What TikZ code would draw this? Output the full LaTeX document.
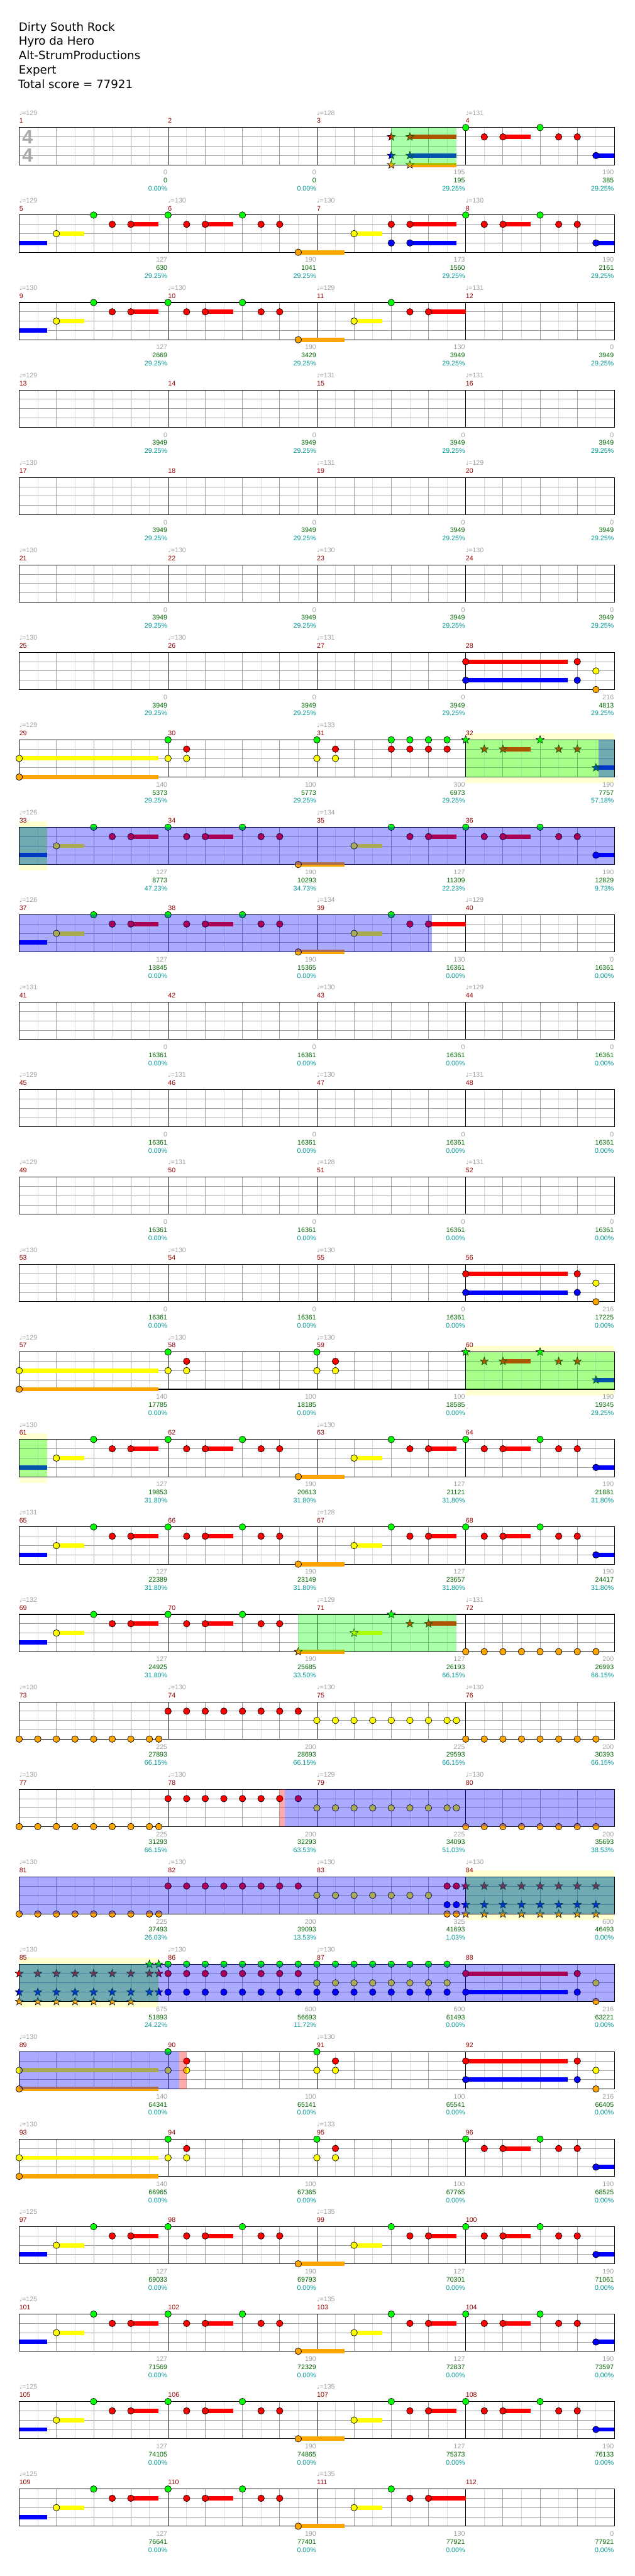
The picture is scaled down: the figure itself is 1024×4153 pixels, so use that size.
\documentclass[tikz,border=0pt]{standalone}
\usepackage{fontspec}
\setmainfont{Liberation Sans}
\newfontfamily\djv{DejaVu Sans}
\definecolor{cG}{RGB}{0,255,0}
\definecolor{cR}{RGB}{255,0,0}
\definecolor{cY}{RGB}{255,255,0}
\definecolor{cB}{RGB}{0,0,255}
\definecolor{cO}{RGB}{255,165,0}
\definecolor{gridmid}{RGB}{160,160,160}
\definecolor{gridlt}{RGB}{222,222,222}
\definecolor{halocol}{RGB}{255,255,208}
\definecolor{txgray}{RGB}{160,160,160}
\definecolor{txred}{RGB}{150,0,0}
\definecolor{txgreen}{RGB}{0,100,0}
\definecolor{txteal}{RGB}{0,150,150}
\definecolor{sigcol}{RGB}{170,170,170}
\def\lnG{0}\def\lnR{1}\def\lnY{2}\def\lnB{3}\def\lnO{4}
\def\nontp{-}
\newcommand\gRow[1]{\pgfmathsetmacro\Y{205.7+141*(#1)}}
\newcommand\gNote[2]{\filldraw[fill=c#1,draw=black,line width=0.7pt] ({31+30*(#2)},{\Y+15*\csname ln#1\endcsname}) circle[radius=5.3pt];}
\newcommand\gSus[3]{\fill[c#1] ({31+30*(#2)},{\Y+15*\csname ln#1\endcsname-3.5}) rectangle ({31+30*(#3)},{\Y+15*\csname ln#1\endcsname+3.5});}
\newcommand\gStar[2]{\filldraw[fill=c#1,draw=black,line width=0.6pt,shift={({31+30*(#2)},{\Y+15*\csname ln#1\endcsname})}] (90:6.8pt) -- (126:2.8pt) -- (162:6.8pt) -- (198:2.8pt) -- (234:6.8pt) -- (270:2.8pt) -- (306:6.8pt) -- (342:2.8pt) -- (18:6.8pt) -- (54:2.8pt) -- cycle;}
\newcommand\gGrid{%
 \foreach \k in {1,3,...,31}{\draw[gridlt,line width=0.8pt] ({31+30*\k},\Y) -- ({31+30*\k},{\Y+60});}
 \foreach \k in {2,4,6,10,12,14,18,20,22,26,28,30}{\draw[gridmid,line width=0.8pt] ({31+30*\k},\Y) -- ({31+30*\k},{\Y+60});}
 \foreach \k in {1,2,3}{\draw[gridmid,line width=0.8pt] (31,{\Y+15*\k}) -- (991,{\Y+15*\k});}
 \foreach \k in {8,16,24}{\draw[black,line width=0.8pt] ({31+30*\k},\Y) -- ({31+30*\k},{\Y+60});}
 \draw[black,line width=1.1pt] (31,\Y) rectangle (991,{\Y+60});}
\newcommand\gHalo[2]{\fill[halocol] ({31+30*(#1)},{\Y-10}) rectangle ({31+30*(#2)},{\Y+70});}
\newcommand\gOvG[2]{\fill[cG,fill opacity=0.333] ({31+30*(#1)},\Y) rectangle ({31+30*(#2)},{\Y+60});}
\newcommand\gOvB[2]{\fill[cB,fill opacity=0.333] ({31+30*(#1)},\Y) rectangle ({31+30*(#2)},{\Y+60});}
\newcommand\gOvP[2]{\fill[cR,fill opacity=0.333] ({31+30*(#1)},\Y) rectangle ({31+30*(#2)},{\Y+60});}
\newcommand\gTri[1]{\gSus{R}{#1+2}{#1+3.5}\gNote{G}{#1}\gNote{R}{#1+1}\gNote{R}{#1+2}}
\newcommand\gDuo[1]{\gNote{R}{#1}\gNote{R}{#1+1}}
\newcommand\gFirst{\gSus{B}{0}{1.5}\gSus{Y}{2}{3.5}\gNote{Y}{2}\gTri{4}\gTri{8}\gNote{G}{12}\gDuo{13}\gSus{O}{15}{17.5}\gNote{O}{15}\gSus{Y}{18}{19.5}\gNote{Y}{18}}
\newcommand\gMfour[1]{\gTri{#1}\gNote{G}{#1+4}\gDuo{#1+5}\gSus{B}{#1+7}{#1+8}\gNote{B}{#1+7}}
\newcommand\gFull{\gFirst\gTri{20}\gMfour{24}}
\newcommand\gEndThree{\gSus{R}{22}{24}\gNote{G}{20}\gNote{R}{21}\gNote{R}{22}}
\newcommand\gChord{\gSus{R}{24}{29.5}\gSus{B}{24}{29.5}\gNote{R}{24}\gNote{B}{24}\gNote{R}{30}\gNote{B}{30}\gNote{Y}{31}\gNote{O}{31}}
\newcommand\gLongOpen{\gSus{Y}{0}{7.5}\gSus{O}{0}{7.5}\gNote{Y}{0}\gNote{O}{0}\gNote{G}{8}\gNote{Y}{8}\gNote{R}{9}\gNote{Y}{9}\gNote{G}{16}\gNote{Y}{16}\gNote{R}{17}\gNote{Y}{17}}
\newcommand\gStarEnd{\gSus{R}{26}{27.5}\gSus{B}{31}{32}\gStar{G}{24}\gStar{R}{25}\gStar{R}{26}\gStar{G}{28}\gStar{R}{29}\gStar{R}{30}\gStar{B}{31}}
\newcommand\gStream{%
 \foreach \k in {0,1,2,3,4,5,6,7,7.5}{\gNote{O}{\k}}
 \foreach \k in {8,...,15}{\gNote{R}{\k}}
 \foreach \k in {16,17,18,19,20,21,22,23,23.5}{\gNote{Y}{\k}}
 \foreach \k in {24,...,31}{\gNote{O}{\k}}}
\tikzset{
 ttl/.style={font=\djv\fontsize{18.5}{22}\selectfont,text=black,inner sep=0pt},
 tempo/.style={font=\fontsize{10.8}{12}\selectfont,text=txgray,inner sep=0pt},
 mnum/.style={font=\fontsize{10.8}{12}\selectfont,text=txred,inner sep=0pt},
 scA/.style={font=\fontsize{10.8}{12}\selectfont,text=txgray,inner sep=0pt},
 scB/.style={font=\fontsize{10.8}{12}\selectfont,text=txgreen,inner sep=0pt},
 scC/.style={font=\fontsize{10.8}{12}\selectfont,text=txteal,inner sep=0pt},
 sig/.style={font=\bfseries\fontsize{31}{31}\selectfont,text=sigcol,inner sep=0pt}
}
\begin{document}
\begin{tikzpicture}[x=1pt,y=-1pt]
\useasboundingbox (0,0) rectangle (1024,4153);
\fill[white] (0,0) rectangle (1024,4153);
% title
\node[ttl,anchor=base west] (t1) at (30,50) {Dirty South Rock};
\node[ttl,anchor=base west] (t2) at (30,73) {Hyro da Hero};
\node[ttl,anchor=base west] (t3) at (30,96) {Alt-StrumProductions};
\node[ttl,anchor=base west] (t4) at (30,119) {Expert};
\node[ttl,anchor=base west] (t5) at (29,142) {Total score = 77921};
% row 1 (1-4)
\gRow{0}\gGrid
\node[sig] (ts1) at (44.5,220.7) {4};
\node[sig] (ts2) at (44.5,250.7) {4};
\gSus{R}{21}{23.5}\gSus{B}{21}{23.5}\gSus{O}{21}{23.5}
\gStar{R}{20}\gStar{B}{20}\gStar{O}{20}\gStar{R}{21}\gStar{B}{21}\gStar{O}{21}
\gMfour{24}
\gOvG{20}{23.5}
% row 2 (5-8)
\gRow{1}\gGrid\gFirst
\gSus{R}{21}{23.5}\gSus{B}{21}{23.5}\gNote{R}{20}\gNote{B}{20}\gNote{R}{21}\gNote{B}{21}
\gMfour{24}
% row 3 (9-12)
\gRow{2}\gGrid\gFirst\gEndThree
% rows 4-6
\gRow{3}\gGrid
\gRow{4}\gGrid
\gRow{5}\gGrid
% row 7 (25-28)
\gRow{6}\gGrid\gChord
% row 8 (29-32)
\gRow{7}\gHalo{24}{32}\gGrid\gLongOpen
\foreach \k in {20,...,23}{\gNote{G}{\k}\gNote{R}{\k}}
\gStarEnd
\gOvG{24}{32}\gOvB{31.15}{32}
% row 9 (33-36)
\gRow{8}\gHalo{0}{1.5}\gGrid\gFull\gOvG{0}{1.5}\gOvB{0}{32}
% row 10 (37-40)
\gRow{9}\gGrid\gFirst\gEndThree\gOvB{0}{22.2}
% rows 11-13
\gRow{10}\gGrid
\gRow{11}\gGrid
\gRow{12}\gGrid
% row 14 (53-56)
\gRow{13}\gGrid\gChord
% row 15 (57-60)
\gRow{14}\gHalo{24}{32}\gGrid\gLongOpen\gStarEnd\gOvG{24}{32}
% row 16 (61-64)
\gRow{15}\gHalo{0}{1.5}\gGrid\gFull\gOvG{0}{1.5}
% row 17 (65-68)
\gRow{16}\gGrid\gFull
% row 18 (69-72)
\gRow{17}\gGrid
\gSus{B}{0}{1.5}\gSus{Y}{2}{3.5}\gNote{Y}{2}\gTri{4}\gTri{8}\gNote{G}{12}\gDuo{13}
\gSus{O}{15}{17.5}\gStar{O}{15}\gSus{Y}{18}{19.5}\gStar{Y}{18}
\gSus{R}{22}{23.5}\gStar{G}{20}\gStar{R}{21}\gStar{R}{22}
\foreach \k in {24,...,31}{\gNote{O}{\k}}
\gOvG{15}{23.5}
% row 19 (73-76)
\gRow{18}\gGrid\gStream
% row 20 (77-80)
\gRow{19}\gGrid\gStream\gOvP{14}{14.27}\gOvB{14.27}{32}
% row 21 (81-84)
\gRow{20}\gHalo{24}{32}\gGrid
\foreach \k in {0,1,2,3,4,5,6,7,7.5}{\gNote{O}{\k}}
\foreach \k in {8,...,15}{\gNote{R}{\k}}
\foreach \k in {16,...,22}{\gNote{Y}{\k}}
\foreach \k in {23,23.5}{\gNote{R}{\k}\gNote{B}{\k}\gNote{O}{\k}}
\foreach \k in {24,...,31}{\gStar{R}{\k}\gStar{B}{\k}\gStar{O}{\k}}
\gOvG{24}{32}\gOvB{0}{32}
% row 22 (85-88)
\gRow{21}\gHalo{0}{7.5}\gGrid
\foreach \k in {0,1,2,3,4,5,6,7,7.5}{\gStar{R}{\k}\gStar{B}{\k}}
\foreach \k in {0,...,6}{\gStar{O}{\k}}
\gStar{G}{7}\gStar{G}{7.5}
\foreach \k in {8,...,23}{\gNote{G}{\k}\gNote{B}{\k}}
\foreach \k in {8,...,15}{\gNote{R}{\k}}
\foreach \k in {16,...,23}{\gNote{Y}{\k}}
\gChord
\gOvG{0}{7.5}\gOvB{0}{32}
% row 23 (89-92)
\gRow{22}\gGrid\gLongOpen\gChord\gOvB{0}{8.6}\gOvP{8.6}{9}
% row 24 (93-96)
\gRow{23}\gGrid\gLongOpen\gMfour{24}
% rows 25-27
\gRow{24}\gGrid\gFull
\gRow{25}\gGrid\gFull
\gRow{26}\gGrid\gFull
% row 28
\gRow{27}\gGrid\gFirst\gEndThree
% labels
\foreach \m/\tp/\sa/\sb/\sc in {1/129/0/0/0.00,2/-/0/0/0.00,3/128/195/195/29.25,4/131/190/385/29.25,
5/129/127/630/29.25,6/130/190/1041/29.25,7/130/173/1560/29.25,8/130/190/2161/29.25,
9/130/127/2669/29.25,10/130/190/3429/29.25,11/129/130/3949/29.25,12/131/0/3949/29.25,
13/129/0/3949/29.25,14/-/0/3949/29.25,15/131/0/3949/29.25,16/131/0/3949/29.25,
17/130/0/3949/29.25,18/-/0/3949/29.25,19/131/0/3949/29.25,20/129/0/3949/29.25,
21/130/0/3949/29.25,22/130/0/3949/29.25,23/130/0/3949/29.25,24/130/0/3949/29.25,
25/130/0/3949/29.25,26/130/0/3949/29.25,27/131/0/3949/29.25,28/-/216/4813/29.25,
29/129/140/5373/29.25,30/-/100/5773/29.25,31/133/300/6973/29.25,32/-/190/7757/57.18,
33/126/127/8773/47.23,34/-/190/10293/34.73,35/134/127/11309/22.23,36/-/190/12829/9.73,
37/126/127/13845/0.00,38/-/190/15365/0.00,39/134/130/16361/0.00,40/129/0/16361/0.00,
41/131/0/16361/0.00,42/-/0/16361/0.00,43/130/0/16361/0.00,44/129/0/16361/0.00,
45/129/0/16361/0.00,46/131/0/16361/0.00,47/130/0/16361/0.00,48/131/0/16361/0.00,
49/129/0/16361/0.00,50/131/0/16361/0.00,51/128/0/16361/0.00,52/131/0/16361/0.00,
53/130/0/16361/0.00,54/130/0/16361/0.00,55/130/0/16361/0.00,56/-/216/17225/0.00,
57/129/140/17785/0.00,58/130/100/18185/0.00,59/130/100/18585/0.00,60/-/190/19345/29.25,
61/130/127/19853/31.80,62/-/190/20613/31.80,63/130/127/21121/31.80,64/-/190/21881/31.80,
65/131/127/22389/31.80,66/-/190/23149/31.80,67/128/127/23657/31.80,68/-/190/24417/31.80,
69/132/127/24925/31.80,70/-/190/25685/33.50,71/129/127/26193/66.15,72/131/200/26993/66.15,
73/130/225/27893/66.15,74/130/200/28693/66.15,75/130/225/29593/66.15,76/130/200/30393/66.15,
77/130/225/31293/66.15,78/130/200/32293/63.53,79/129/225/34093/51.03,80/130/200/35693/38.53,
81/130/225/37493/26.03,82/130/200/39093/13.53,83/130/325/41693/1.03,84/130/600/46493/0.00,
85/130/675/51893/24.22,86/130/600/56693/11.72,87/130/600/61493/0.00,88/-/216/63221/0.00,
89/130/140/64341/0.00,90/-/100/65141/0.00,91/130/100/65541/0.00,92/-/216/66405/0.00,
93/130/140/66965/0.00,94/-/100/67365/0.00,95/133/100/67765/0.00,96/-/190/68525/0.00,
97/125/127/69033/0.00,98/-/190/69793/0.00,99/135/127/70301/0.00,100/-/190/71061/0.00,
101/125/127/71569/0.00,102/-/190/72329/0.00,103/135/127/72837/0.00,104/-/190/73597/0.00,
105/125/127/74105/0.00,106/-/190/74865/0.00,107/135/127/75373/0.00,108/-/190/76133/0.00,
109/125/127/76641/0.00,110/-/190/77401/0.00,111/135/130/77921/0.00,112/-/0/77921/0.00}{
 \pgfmathtruncatemacro\rr{(\m-1)/4}
 \pgfmathtruncatemacro\cc{mod(\m-1,4)}
 \pgfmathsetmacro\YY{205.7+141*\rr}
 \pgfmathsetmacro\xs{31+240*\cc}
 \pgfmathsetmacro\xe{270+240*\cc}
 \node[mnum,anchor=base west] (mn\m) at (\xs,\YY-7) {\m};
 \ifx\tp\nontp\else
 \node[tempo,anchor=base west] (tp\m) at (\xs,\YY-20) {{\djv\fontsize{9.5}{10}\selectfont\symbol{"2669}}=\tp};
 \fi
 \node[scA,anchor=base east] (sa\m) at (\xe,\YY+76) {\sa};
 \node[scB,anchor=base east] (sb\m) at (\xe,\YY+89) {\sb};
 \node[scC,anchor=base east] (sc\m) at (\xe,\YY+102) {\sc\%};
}
\end{tikzpicture}
\end{document}
